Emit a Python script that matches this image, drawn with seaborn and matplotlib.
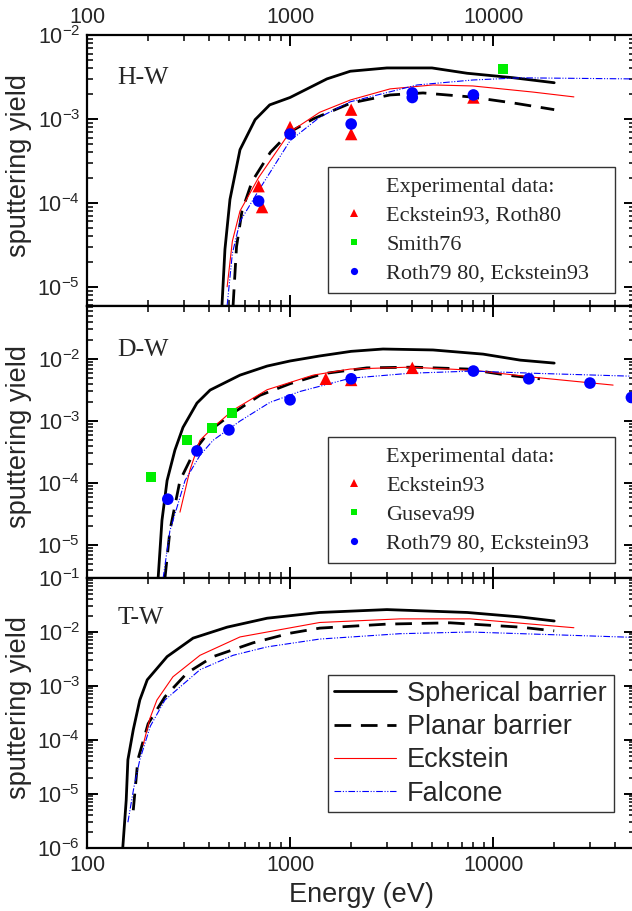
import matplotlib
matplotlib.use("Agg")
import numpy as np
import pandas as pd
import seaborn as sns
import matplotlib.pyplot as plt
from matplotlib.lines import Line2D
from matplotlib.ticker import LogLocator, FuncFormatter, NullFormatter

sns.set_theme(style="ticks")
plt.rcParams["font.family"] = ["Liberation Sans", "DejaVu Sans"]
plt.rcParams["mathtext.fontset"] = "custom"
plt.rcParams["mathtext.rm"] = "Liberation Sans"
plt.rcParams["mathtext.default"] = "regular"

# ---------------- H on W ----------------
hw_sph_E = [462, 478, 506, 567, 673, 794, 1000, 1520, 1980, 3000, 5000, 7450, 12500, 20000]
hw_sph_Y = [5.9e-6, 2.8e-5, 1.1e-4, 4.3e-4, 9.8e-4, 1.47e-3, 1.8e-3, 3.0e-3, 3.7e-3, 4.05e-3, 4.05e-3, 3.5e-3, 3.1e-3, 2.7e-3]
hw_pla_E = [524, 545, 580, 650, 800, 1000, 1300, 2000, 3110, 4520, 7710, 12560, 20000]
hw_pla_Y = [5.9e-6, 3.0e-5, 8.0e-5, 1.8e-4, 4.0e-4, 7.0e-4, 1.0e-3, 1.55e-3, 1.93e-3, 2.04e-3, 1.83e-3, 1.55e-3, 1.29e-3]
hw_eck_E = [490, 520, 567, 700, 1000, 1400, 1980, 3110, 5060, 7950, 15700, 25000]
hw_eck_Y = [1.0e-5, 3.5e-5, 8.0e-5, 2.0e-4, 7.0e-4, 1.2e-3, 1.68e-3, 2.28e-3, 2.54e-3, 2.47e-3, 2.09e-3, 1.83e-3]
hw_fal_E = [490, 520, 567, 700, 1000, 1400, 1980, 4230, 7950, 13600, 47300]
hw_fal_Y = [6.0e-6, 2.5e-5, 6.0e-5, 1.4e-4, 5.5e-4, 1.05e-3, 1.6e-3, 2.54e-3, 2.91e-3, 3.09e-3, 3.0e-3]
hw_exp1_E = [700, 728, 1000, 2000, 2000, 8000]
hw_exp1_Y = [1.58e-4, 8.9e-5, 8.0e-4, 1.29e-3, 6.6e-4, 1.8e-3]
hw_exp2_E = [11200]
hw_exp2_Y = [3.9e-3]
hw_exp3_E = [700, 1000, 2000, 4000, 4000, 8000]
hw_exp3_Y = [1.05e-4, 6.6e-4, 8.7e-4, 1.8e-3, 2.04e-3, 1.93e-3]

# ---------------- D on W ----------------
dw_sph_E = [224, 234, 248, 271, 297, 348, 404, 567, 771, 1000, 1400, 2000, 2870, 5060, 8930, 13600, 20000]
dw_sph_Y = [2.9e-6, 2.5e-5, 1.1e-4, 3.4e-4, 7.9e-4, 1.95e-3, 3.16e-3, 5.5e-3, 7.7e-3, 9.3e-3, 1.12e-2, 1.33e-2, 1.45e-2, 1.40e-2, 1.2e-2, 9.6e-3, 8.6e-3]
dw_pla_E = [242, 256, 287, 340, 404, 524, 711, 1000, 1455, 2390, 4040, 7450, 11700, 17000]
dw_pla_Y = [2.9e-6, 1.7e-5, 1.1e-4, 3.4e-4, 7.1e-4, 1.35e-3, 2.6e-3, 4.0e-3, 5.8e-3, 7.2e-3, 7.4e-3, 6.9e-3, 5.5e-3, 4.8e-3]
dw_eck_E = [287, 321, 360, 418, 524, 771, 1300, 1980, 3900, 7950, 15700, 39000]
dw_eck_Y = [3.4e-5, 1.6e-4, 4.9e-4, 7.9e-4, 1.5e-3, 3.2e-3, 5.5e-3, 6.9e-3, 7.4e-3, 6.6e-3, 5.1e-3, 3.8e-3]
dw_fal_E = [237, 256, 304, 360, 418, 567, 796, 1120, 1980, 3900, 7950, 15700, 47000]
dw_fal_Y = [2.9e-6, 1.7e-5, 1.1e-4, 2.8e-4, 4.9e-4, 1.0e-3, 2.0e-3, 3.0e-3, 4.9e-3, 5.9e-3, 6.4e-3, 5.9e-3, 5.3e-3]
dw_exp1_E = [1500, 2000, 4000]
dw_exp1_Y = [4.8e-3, 4.6e-3, 7.2e-3]
dw_exp2_E = [207, 311, 413, 518]
dw_exp2_Y = [1.25e-4, 4.9e-4, 7.7e-4, 1.35e-3]
dw_exp3_E = [250, 348, 500, 1000, 2000, 8000, 15000, 30000, 48000]
dw_exp3_Y = [5.5e-5, 3.3e-4, 7.2e-4, 2.2e-3, 4.8e-3, 6.4e-3, 4.8e-3, 4.1e-3, 2.4e-3]

# ---------------- T on W ----------------
tw_sph_E = [150, 156, 159, 169, 182, 198, 248, 333, 490, 771, 1400, 3000, 7450, 13600, 20000]
tw_sph_Y = [1.0e-6, 7.7e-6, 4.3e-5, 1.55e-4, 5.5e-4, 1.3e-3, 3.5e-3, 7.7e-3, 1.23e-2, 1.8e-2, 2.3e-2, 2.6e-2, 2.3e-2, 1.9e-2, 1.6e-2]
tw_pla_E = [169, 178, 200, 242, 311, 418, 657, 1000, 1400, 3000, 6140, 13600, 20000]
tw_pla_Y = [5.0e-6, 4.3e-5, 2.0e-4, 6.3e-4, 1.74e-3, 3.5e-3, 6.3e-3, 9.5e-3, 1.18e-2, 1.4e-2, 1.48e-2, 1.23e-2, 1.05e-2]
tw_eck_E = [189, 204, 221, 265, 360, 567, 1400, 3480, 7700, 25000]
tw_eck_Y = [8.1e-5, 2.5e-4, 5.5e-4, 1.48e-3, 3.7e-3, 8.1e-3, 1.5e-2, 1.75e-2, 1.75e-2, 1.2e-2]
tw_fal_E = [159, 170, 182, 205, 242, 360, 524, 771, 1400, 3480, 7700, 47000]
tw_fal_Y = [3.0e-6, 1.3e-5, 4.3e-5, 1.8e-4, 5.5e-4, 2.0e-3, 3.7e-3, 5.3e-3, 7.4e-3, 9.3e-3, 1.0e-2, 8.0e-3]

curve_names = ["Spherical barrier", "Planar barrier", "Eckstein", "Falcone"]
panel_names = ["H-W", "D-W", "T-W"]
hw_legend = ["Experimental data:", "Eckstein93, Roth80", "Smith76", "Roth79 80, Eckstein93"]
dw_legend = ["Experimental data:", "Eckstein93", "Guseva99", "Roth79 80, Eckstein93"]

curve_styles = [
    dict(color="black", lw=2.0, linestyle="-"),
    dict(color="black", lw=2.0, linestyle=(0, (6, 3.5))),
    dict(color="#ff0000", lw=0.8, linestyle="-"),
    dict(color="#0000ff", lw=0.8, linestyle=(0, (6, 1.5, 1, 1.5, 1, 1.5))),
]
marker_styles = [
    dict(marker="^", color="#ff0000", s=80),
    dict(marker="s", color="#00ee00", s=55),
    dict(marker="o", color="#0000ff", s=70),
]

fig = plt.figure(figsize=(6.32, 9.11), dpi=100)
W, H = 632.0, 911.0
left = 87 / W
width = (635 - 87) / W
rects = [(306, 35), (578, 306), (848, 578)]
ylims = [(5.9e-6, 1e-2), (2.95e-6, 7.16e-2), (1e-6, 1e-1)]
legend_bottoms = [0.048, 0.055]

panels = [
    dict(curves=[(hw_sph_E, hw_sph_Y), (hw_pla_E, hw_pla_Y), (hw_eck_E, hw_eck_Y), (hw_fal_E, hw_fal_Y)],
         exp=[(hw_exp1_E, hw_exp1_Y), (hw_exp2_E, hw_exp2_Y), (hw_exp3_E, hw_exp3_Y)], legend=hw_legend),
    dict(curves=[(dw_sph_E, dw_sph_Y), (dw_pla_E, dw_pla_Y), (dw_eck_E, dw_eck_Y), (dw_fal_E, dw_fal_Y)],
         exp=[(dw_exp1_E, dw_exp1_Y), (dw_exp2_E, dw_exp2_Y), (dw_exp3_E, dw_exp3_Y)], legend=dw_legend),
    dict(curves=[(tw_sph_E, tw_sph_Y), (tw_pla_E, tw_pla_Y), (tw_eck_E, tw_eck_Y), (tw_fal_E, tw_fal_Y)],
         exp=[], legend=None),
]

axes = []
for i, (p, (bot, top)) in enumerate(zip(panels, rects)):
    ax = fig.add_axes([left, 1 - bot / H, width, (bot - top) / H])
    axes.append(ax)
    ax.set_xscale("log")
    ax.set_yscale("log")
    for (E, Y), st, name in zip(p["curves"], curve_styles, curve_names):
        df = pd.DataFrame({"E": E, "Y": Y})
        sns.lineplot(data=df, x="E", y="Y", ax=ax, estimator=None, sort=True,
                     color=st["color"], lw=st["lw"], linestyle=st["linestyle"], label=name, legend=False)
    for (E, Y), ms in zip(p["exp"], marker_styles):
        df = pd.DataFrame({"E": E, "Y": Y})
        sns.scatterplot(data=df, x="E", y="Y", ax=ax, marker=ms["marker"], color=ms["color"],
                        s=ms["s"], edgecolor="none", linewidth=0, legend=False, zorder=5)
    ax.set_xlim(100, 50000)
    ax.set_ylim(*ylims[i])
    for s in ax.spines.values():
        s.set_linewidth(1.6)
        s.set_color("black")
    ax.xaxis.set_major_locator(LogLocator(base=10, numticks=10))
    ax.xaxis.set_minor_locator(LogLocator(base=10, subs=np.arange(2, 10), numticks=20))
    ax.yaxis.set_major_locator(LogLocator(base=10, numticks=10))
    ax.yaxis.set_minor_locator(LogLocator(base=10, subs=np.arange(2, 10), numticks=20))
    ax.xaxis.set_minor_formatter(NullFormatter())
    ax.yaxis.set_minor_formatter(NullFormatter())
    ax.xaxis.set_major_formatter(FuncFormatter(lambda v, pos: f"{int(round(v))}"))
    ax.tick_params(which="both", direction="in", top=True, right=True, color="black")
    ax.tick_params(which="major", length=8, width=1.4, labelsize=15.5, pad=5)
    ax.tick_params(which="minor", length=4, width=1.1)
    ax.tick_params(axis="x", labelbottom=(i == 2), labeltop=(i == 0))
    ax.set_ylabel("sputtering yield", fontsize=19.5)
    ax.yaxis.set_label_coords(-0.10, 0.52)
    ax.set_xlabel("")
    ax.text(0.056, [0.841, 0.838, 0.852][i], panel_names[i], transform=ax.transAxes,
            ha="left", va="center", fontsize=18.5, family=["Liberation Serif"])
    ax.set_facecolor("white")

    if p["legend"] is not None:
        handles = [Line2D([], [], linestyle="none", marker=None)]
        for ms in marker_styles:
            handles.append(Line2D([], [], linestyle="none", marker=ms["marker"], color=ms["color"],
                                  markersize=np.sqrt(ms["s"]) * 0.62, markeredgewidth=0))
        leg = ax.legend(handles, p["legend"], loc="lower left",
                        bbox_to_anchor=(0.44, legend_bottoms[i], 0.5235, 0.48),
                        mode="expand", prop={"family": "Liberation Serif", "size": 16}, frameon=True,
                        fancybox=False, edgecolor="#333333", framealpha=1, labelspacing=0.38,
                        handlelength=1.5, handletextpad=0.7, borderpad=0.42, borderaxespad=0)
        leg.get_frame().set_linewidth(1.0)

axes[2].set_xlabel("Energy (eV)", fontsize=19.5)
axes[2].xaxis.set_label_coords(0.5, -0.126)

handles = []
for st in curve_styles:
    handles.append(Line2D([], [], color=st["color"], lw=st["lw"], linestyle=st["linestyle"]))
leg = axes[2].legend(handles, curve_names, loc="lower left", bbox_to_anchor=(0.44, 0.133, 0.5215, 0.508),
                     mode="expand", prop={"family": "Liberation Sans", "size": 19.5}, frameon=True,
                     fancybox=False, edgecolor="#333333", framealpha=1, labelspacing=0.27,
                     handlelength=2.3, handletextpad=0.4, borderpad=0.2, borderaxespad=0)
leg.get_frame().set_linewidth(1.0)

fig.savefig("out.png", dpi=100, facecolor="white")
